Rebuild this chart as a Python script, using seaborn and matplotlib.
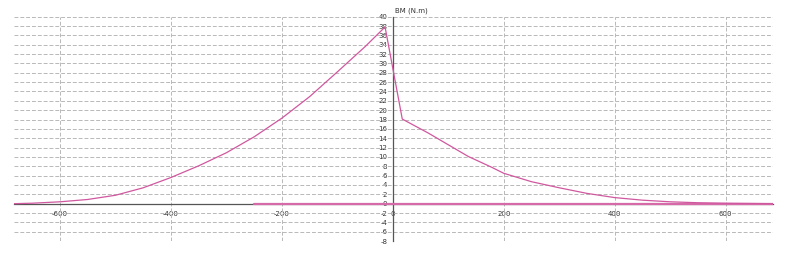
import matplotlib
matplotlib.use("Agg")
import matplotlib.pyplot as plt
import seaborn as sns
import pandas as pd

# Bending moment curve (x position, BM value)
bm_x = [-683, -650, -600, -550, -500, -450, -400, -350, -300, -250, -200, -150,
        -100, -50, -14, 17, 64, 100, 136, 178, 200, 250, 300, 350, 400, 450,
        500, 550, 600, 685]
bm_y = [0.0, 0.1, 0.4, 0.9, 1.8, 3.4, 5.6, 8.1, 10.9, 14.3, 18.3, 22.9,
        28.2, 33.6, 37.8, 18.1, 15.1, 12.6, 10.1, 7.8, 6.5, 4.7, 3.4, 2.2,
        1.3, 0.75, 0.4, 0.2, 0.1, 0.0]
# near-zero baseline series
base_x = [-250, 685]
base_y = [0.0, 0.0]

x_ticks = [-600, -400, -200, 0, 200, 400, 600]
y_ticks = list(range(-8, 41, 2))
y_label = "BM (N.m)"

sns.set_style("white")
plt.rcParams['font.family'] = ['DejaVu Sans']
plt.rcParams['axes.unicode_minus'] = False

fig = plt.figure(figsize=(8, 2.57), dpi=100)
ax = fig.add_axes([0.0175, 0.062, 0.9485, 0.873])

df_bm = pd.DataFrame({"x": bm_x, "y": bm_y})
df_base = pd.DataFrame({"x": base_x, "y": base_y})
sns.lineplot(data=df_base, x="x", y="y", sort=False, color="#d66aa8", lw=1.6, ax=ax, zorder=3)
sns.lineplot(data=df_bm, x="x", y="y", sort=False, color="#d0589f", lw=0.9, ax=ax, zorder=4)

ax.set_xlim(-683, 685)
ax.set_ylim(-8, 40)
ax.set_xticks(x_ticks)
ax.set_yticks(y_ticks)
ax.set_xlabel("")
ax.set_ylabel("")

for y in y_ticks:
    ax.axhline(y, color="#b8b8b8", lw=0.7, ls=(0, (4, 2)), zorder=1)
for x in x_ticks:
    if x != 0:
        ax.axvline(x, color="#b8b8b8", lw=0.7, ls=(0, (4, 2)), zorder=1)

ax.spines['left'].set_position(('data', 0))
ax.spines['bottom'].set_position(('data', 0))
ax.spines['top'].set_visible(False)
ax.spines['right'].set_visible(False)
for s in ('left', 'bottom'):
    ax.spines[s].set_color('#555555')
    ax.spines[s].set_linewidth(0.9)
    ax.spines[s].set_zorder(2)

ax.tick_params(axis='both', labelsize=5, colors='#333333', length=3, width=0.6,
               direction='out', pad=1)
ax.tick_params(axis='x', pad=2)

ax.text(3, 40.6, y_label, fontsize=5, color='#333333', ha='left', va='bottom')

fig.savefig("out.png", dpi=100, facecolor="white")
